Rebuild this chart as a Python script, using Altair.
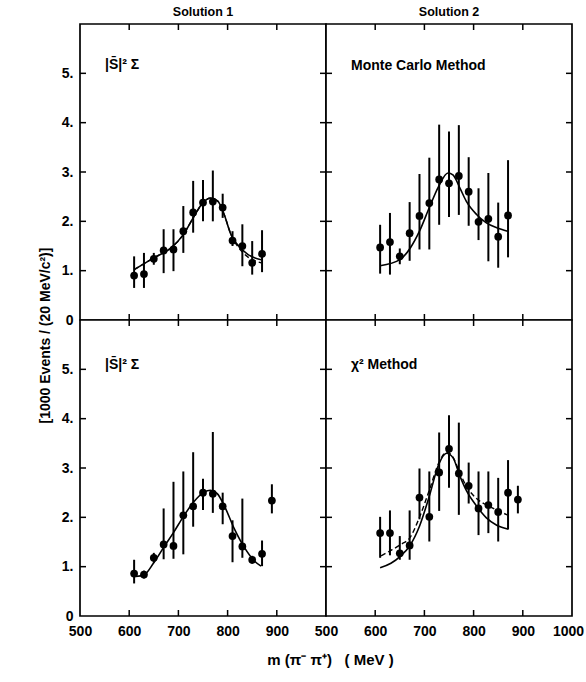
import altair as alt
import pandas as pd

# ---------------- data ----------------
mass14 = [610, 630, 650, 670, 690, 710, 730, 750, 770, 790, 810, 830, 850, 870]
mass15 = mass14 + [890]

# Solution 1, top (|S|^2 Sigma)
tl_y  = [0.90, 0.93, 1.24, 1.41, 1.43, 1.80, 2.18, 2.38, 2.40, 2.28, 1.61, 1.50, 1.16, 1.34]
tl_lo = [0.65, 0.65, 1.12, 0.95, 0.99, 1.36, 1.77, 2.00, 2.00, 2.07, 1.50, 1.09, 0.92, 0.97]
tl_hi = [1.29, 1.36, 1.36, 1.84, 1.84, 2.31, 2.82, 2.84, 3.03, 2.56, 1.80, 1.94, 1.60, 1.82]
tl_fit_x = [610, 650, 685, 710, 730, 750, 765, 780, 793, 807, 820, 841, 868]
tl_fit_y = [1.02, 1.26, 1.46, 1.73, 2.07, 2.38, 2.47, 2.41, 2.14, 1.73, 1.53, 1.33, 1.22]
tl_dash_y = [1.02, 1.26, 1.46, 1.73, 2.07, 2.38, 2.47, 2.41, 2.14, 1.73, 1.50, 1.28, 1.16]

# Solution 2, top (Monte Carlo Method)
tr_y  = [1.47, 1.58, 1.29, 1.76, 2.11, 2.37, 2.85, 2.77, 2.92, 2.60, 1.99, 2.05, 1.69, 2.12]
tr_lo = [0.94, 0.92, 1.13, 1.20, 1.43, 1.43, 1.93, 2.09, 2.13, 1.91, 1.62, 1.19, 1.06, 1.27]
tr_hi = [1.93, 2.17, 1.45, 2.39, 2.96, 3.29, 3.96, 3.82, 3.95, 3.30, 2.67, 2.98, 2.38, 3.24]
tr_fit_x = [610, 651, 672, 690, 710, 729, 748, 758, 772, 785, 806, 826, 847, 869]
tr_fit_y = [1.10, 1.23, 1.47, 1.80, 2.28, 2.71, 2.98, 2.94, 2.68, 2.41, 2.14, 1.97, 1.87, 1.80]

# Solution 1, bottom (|S|^2 Sigma)
bl_y  = [0.86, 0.84, 1.18, 1.45, 1.42, 2.04, 2.22, 2.50, 2.48, 2.22, 1.62, 1.41, 1.14, 1.26, 2.34]
bl_lo = [0.66, 0.76, 1.08, 1.15, 1.16, 1.25, 1.81, 2.15, 2.09, 1.86, 1.09, 1.18, 1.06, 1.01, 2.08]
bl_hi = [1.14, 0.92, 1.28, 2.18, 2.72, 2.93, 3.32, 2.78, 3.73, 2.50, 1.94, 2.38, 1.22, 1.53, 2.67]
bl_fit_x = [613, 630, 650, 670, 690, 711, 731, 752, 765, 779, 793, 814, 834, 855, 868]
bl_fit_y = [0.80, 0.83, 1.08, 1.39, 1.69, 2.03, 2.31, 2.51, 2.55, 2.48, 2.24, 1.76, 1.39, 1.11, 1.01]

# Solution 2, bottom (chi^2 Method)
br_y  = [1.68, 1.68, 1.27, 1.43, 2.40, 2.01, 2.91, 3.39, 2.89, 2.64, 2.18, 2.25, 2.11, 2.50, 2.36]
br_lo = [1.18, 1.23, 1.14, 1.14, 1.96, 1.51, 2.13, 2.60, 2.05, 2.28, 1.64, 1.68, 1.51, 1.76, 2.08]
br_hi = [2.01, 2.14, 1.62, 2.14, 2.99, 2.93, 3.72, 4.07, 3.92, 3.11, 2.93, 2.93, 2.80, 3.16, 2.64]
br_fit_x = [610, 632, 652, 670, 690, 710, 729, 745, 758, 772, 786, 806, 826, 847, 871]
br_fit_y = [0.98, 1.07, 1.22, 1.42, 1.82, 2.43, 3.07, 3.30, 3.21, 2.84, 2.53, 2.23, 1.99, 1.84, 1.76]
br_dash_x = [612, 632, 652, 670, 690, 710, 729, 745, 758, 772, 786, 806, 826, 847, 868]
br_dash_y = [1.22, 1.33, 1.45, 1.58, 2.00, 2.55, 3.10, 3.32, 3.22, 2.90, 2.62, 2.38, 2.25, 2.15, 2.05]

x_ticks = [600, 700, 800, 900]
y_ticks = [1, 2, 3, 4, 5]
y_labels = [0, 1, 2, 3, 4, 5]
x_labels_left = [500, 600, 700, 800, 900]
x_labels_right = [500, 600, 700, 800, 900, 1000]

W, H = 246, 296
FONT = "Liberation Sans"
TL = 6  # inward tick length
NB = "\u00a0"


def panel(xs, ys, lo, hi, fit_x, fit_y, dash_x, dash_y, label, label_y,
          show_y, x_label_values, x_title=None, y_title=False, title=None):
    xsc = alt.Scale(domain=[500, 1000], nice=False, zero=False)
    ysc = alt.Scale(domain=[0, 6], nice=False, zero=True)
    if x_label_values is not None:
        xaxis = alt.Axis(values=x_label_values, format="d", labelPadding=8,
                         labelFlush=False, labelOverlap=False,
                         labelOffset=alt.condition("datum.value == 1000",
                                                   alt.value(-4), alt.value(0)),
                         title=x_title if x_title else None,
                         titleX=W + 4, titleY=43, titleAlign="center",
                         titleBaseline="middle", titleFontSize=15,
                         titleFontWeight="bold", titleFont=FONT, titleColor="black")
    else:
        xaxis = None
    if show_y:
        yaxis = alt.Axis(values=y_labels, labelPadding=7,
                         labelExpr="datum.value == 0 ? '0' : datum.value + '.'",
                         title="[1000 Events / (20 MeV/c\u00b2)]" if y_title else None,
                         titleX=-35, titleY=H + 15, titleAngle=-90, titleAlign="center",
                         titleBaseline="middle", titleFontSize=14,
                         titleFontWeight="bold", titleFont=FONT, titleColor="black")
    else:
        yaxis = None

    X = lambda f: alt.X(f, type="quantitative", scale=xsc, axis=xaxis, title=None)
    Y = lambda f: alt.Y(f, type="quantitative", scale=ysc, axis=yaxis, title=None)

    pts = pd.DataFrame({"x": xs, "y": ys, "lo": lo, "hi": hi})
    fit = pd.DataFrame({"x": fit_x, "y": fit_y})

    layers = []
    layers.append(alt.Chart(pts).mark_rule(color="black", strokeWidth=2).encode(
        x=X("x"), y=Y("lo"), y2="hi"))
    layers.append(alt.Chart(pts).mark_circle(color="black", opacity=1, size=60).encode(
        x=X("x"), y=Y("y")))
    layers.append(alt.Chart(fit).mark_line(color="black", strokeWidth=1.6,
                                           interpolate="monotone").encode(
        x=X("x"), y=Y("y")))
    if dash_x is not None:
        dash = pd.DataFrame({"x": dash_x, "y": dash_y})
        layers.append(alt.Chart(dash).mark_line(color="black", strokeWidth=1.4,
                                                strokeDash=[5, 3],
                                                interpolate="monotone").encode(
            x=X("x"), y=Y("y")))
    xt = pd.DataFrame({"x": x_ticks})
    yt = pd.DataFrame({"y": y_ticks})
    layers.append(alt.Chart(xt).mark_rule(color="black", strokeWidth=1.5).encode(
        x=X("x"), y=alt.value(0), y2=alt.value(TL)))
    layers.append(alt.Chart(xt).mark_rule(color="black", strokeWidth=1.5).encode(
        x=X("x"), y=alt.value(H), y2=alt.value(H - TL)))
    layers.append(alt.Chart(yt).mark_rule(color="black", strokeWidth=1.5).encode(
        y=Y("y"), x=alt.value(0), x2=alt.value(TL)))
    layers.append(alt.Chart(yt).mark_rule(color="black", strokeWidth=1.5).encode(
        y=Y("y"), x=alt.value(W), x2=alt.value(W - TL)))
    lab = pd.DataFrame({"t": [label]})
    layers.append(alt.Chart(lab).mark_text(align="left", baseline="middle",
                                           font=FONT, fontSize=14, fontWeight="bold",
                                           color="black").encode(
        x=alt.value(25), y=alt.value(label_y), text="t:N"))

    ch = alt.layer(*layers).properties(
        width=W, height=H,
        view=alt.ViewBackground(stroke="black", strokeWidth=1.7, fill="white"))
    if title:
        ch = ch.properties(title=alt.TitleParams(text=title, anchor="middle", font=FONT,
                                                 fontSize=12.5, fontWeight="bold",
                                                 offset=5, color="black"))
    return ch


S_LABEL = "|S\u0304|\u00b2 \u03a3"
X_TITLE = "m (\u03c0\u207b \u03c0\u207a)" + NB * 3 + "(" + NB + "MeV" + NB + ")"

tl = panel(mass14, tl_y, tl_lo, tl_hi, tl_fit_x, tl_fit_y, tl_fit_x, tl_dash_y,
           S_LABEL, 41, True, None, y_title=True, title="Solution 1")
tr = panel(mass14, tr_y, tr_lo, tr_hi, tr_fit_x, tr_fit_y, None, None,
           "Monte Carlo Method", 42, False, None, title="Solution 2")
bl = panel(mass15, bl_y, bl_lo, bl_hi, bl_fit_x, bl_fit_y, None, None,
           S_LABEL, 45, True, x_labels_left, x_title=X_TITLE)
br = panel(mass15, br_y, br_lo, br_hi, br_fit_x, br_fit_y, br_dash_x, br_dash_y,
           "\u03c7\u00b2 Method", 45, False, x_labels_right)

chart = alt.concat(tl, tr, bl, br, columns=2, spacing=0, bounds="flush").properties(
    padding={"left": 37, "top": 4, "right": 0, "bottom": 6},
    background="white",
).configure_axis(
    domain=False, ticks=False, grid=False,
    labelFont=FONT, labelFontSize=14, labelFontWeight="bold", labelColor="black",
)

chart.save("out.html", embed_options={"renderer": "svg", "actions": False})
